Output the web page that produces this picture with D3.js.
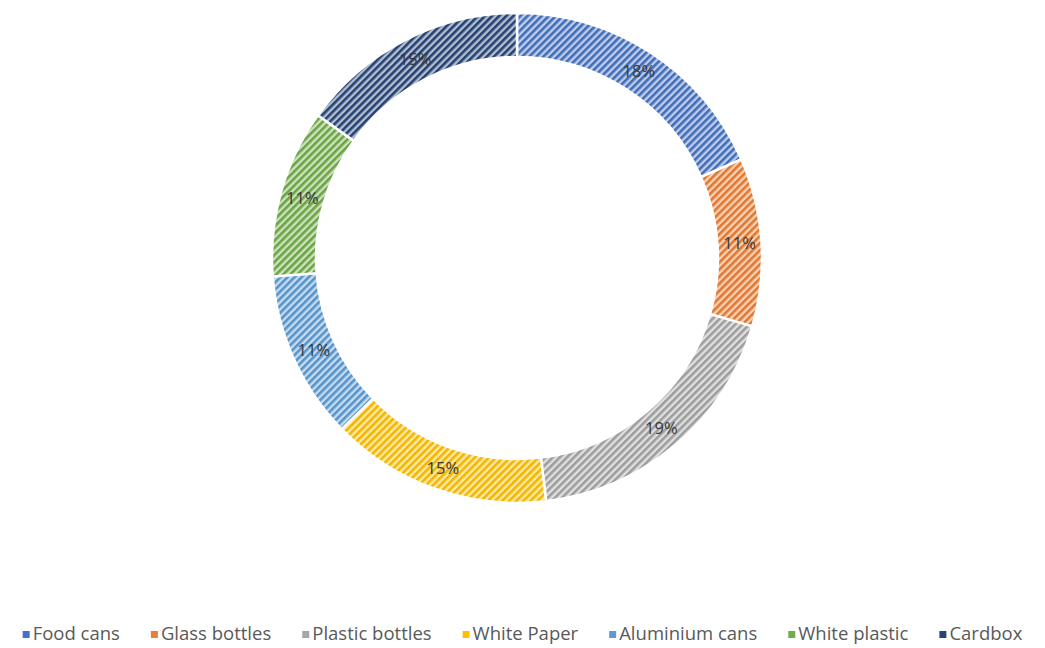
<!DOCTYPE html>
<html>
<head>
<meta charset="utf-8">
<script src="https://cdn.jsdelivr.net/npm/d3@7"></script>
<style>
  body { margin: 0; background: #fff; }
  svg { display: block; }
</style>
</head>
<body>
<svg id="chart" width="1045" height="648"></svg>
<script>
// data
const categories = ["Food cans", "Glass bottles", "Plastic bottles", "White Paper", "Aluminium cans", "White plastic", "Cardbox"];
const values = [18.4, 11.1, 18.6, 14.6, 11.1, 11.1, 15.1];
const colors = ["#4472C4", "#ED7D31", "#A5A5A5", "#FFC000", "#5B9BD5", "#70AD47", "#264478"];

const width = 1045, height = 648;
const cx = 517, cy = 258;
const outerR = 245, innerR = 201;

const svg = d3.select("#chart");
const defs = svg.append("defs");

// striped fills, like excel's wide upward diagonal
colors.forEach((c, i) => {
    const p = defs.append("pattern")
        .attr("id", "stripe" + i)
        .attr("patternUnits", "userSpaceOnUse")
        .attr("width", 5)
        .attr("height", 5)
        .attr("patternTransform", "rotate(45)");
    p.append("rect")
        .attr("width", 5).attr("height", 5)
        .attr("fill", d3.interpolateRgb(c, "#ffffff")(0.65));
    p.append("rect")
        .attr("width", 2.6).attr("height", 5)
        .attr("fill", d3.interpolateRgb(c, "#000000")(0.05));
});

const total = d3.sum(values);
const pie = d3.pie().sort(null).value(d => d)(values);
const arc = d3.arc().innerRadius(innerR).outerRadius(outerR);
const labelArc = d3.arc().innerRadius((innerR + outerR) / 2).outerRadius((innerR + outerR) / 2);

const g = svg.append("g").attr("transform", `translate(${cx},${cy})`);

g.selectAll("path")
    .data(pie)
    .enter().append("path")
    .attr("d", arc)
    .attr("fill", (d, i) => `url(#stripe${i})`)
    .attr("stroke", "#fff")
    .attr("stroke-width", 2.5);

g.selectAll("text")
    .data(pie)
    .enter().append("text")
    .attr("transform", d => `translate(${labelArc.centroid(d)})`)
    .attr("text-anchor", "middle")
    .attr("dy", "0.35em")
    .attr("font-family", "Open Sans, sans-serif")
    .attr("font-size", 16.5)
    .attr("fill", "#383838")
    .text(d => Math.round(d.data / total * 100) + "%");

// legend along the bottom
const legend = svg.append("g");
const items = legend.selectAll("g")
    .data(categories)
    .enter().append("g");

items.append("rect")
    .attr("width", 7).attr("height", 7)
    .attr("y", -9)
    .attr("fill", (d, i) => colors[i]);

items.append("text")
    .attr("x", 10)
    .attr("font-family", "Open Sans, sans-serif")
    .attr("font-size", 18.5)
    .attr("fill", "#595959")
    .text(d => d);

let x = 0;
const gap = 31;
items.each(function() {
    const w = d3.select(this).select("text").node().getComputedTextLength();
    d3.select(this).attr("transform", `translate(${x},0)`);
    x += 10 + w + gap;
});
const legendW = x - gap;
legend.attr("transform", `translate(${(width - legendW) / 2},640)`);
</script>
</body>
</html>
